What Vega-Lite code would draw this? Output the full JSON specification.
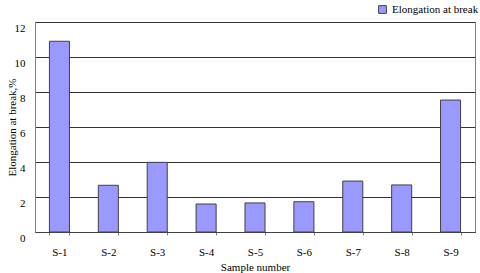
{
  "$schema": "https://vega.github.io/schema/vega-lite/v6.json",
  "width": 440,
  "height": 210,
  "autosize": {"type": "none"},
  "padding": {"left": 35, "top": 22, "right": 5, "bottom": 41},
  "background": "white",
  "config": {
    "font": "'Liberation Serif', 'DejaVu Serif', serif",
    "view": {"stroke": "#808080", "strokeWidth": 1}
  },
  "data": {
    "values": [
      {"sample": "S-1", "value": 10.9},
      {"sample": "S-2", "value": 2.67},
      {"sample": "S-3", "value": 3.98},
      {"sample": "S-4", "value": 1.6},
      {"sample": "S-5", "value": 1.66},
      {"sample": "S-6", "value": 1.73},
      {"sample": "S-7", "value": 2.91},
      {"sample": "S-8", "value": 2.69},
      {"sample": "S-9", "value": 7.54}
    ]
  },
  "mark": {"type": "bar", "stroke": "#404040", "strokeWidth": 1},
  "encoding": {
    "x": {
      "field": "sample",
      "type": "nominal",
      "sort": null,
      "scale": {"paddingInner": 0.59, "paddingOuter": 0.295},
      "axis": {
        "title": "Sample number",
        "titleFont": "'Liberation Serif', 'DejaVu Serif', serif",
        "titleFontSize": 11,
        "titleFontWeight": "normal",
        "titleColor": "#000000",
        "titleY": 35,
        "titleBaseline": "middle",
        "labelFont": "'Liberation Serif', 'DejaVu Serif', serif",
        "labelAngle": 0,
        "labelFontSize": 11,
        "labelColor": "#000000",
        "labelPadding": 11,
        "tickBand": "extent",
        "tickSize": 3,
        "ticks": true,
        "tickColor": "#808080",
        "domainColor": "#404040",
        "grid": false
      }
    },
    "y": {
      "field": "value",
      "type": "quantitative",
      "scale": {"domain": [0, 12], "nice": false},
      "axis": {
        "title": "Elongation at break,%",
        "titleFont": "'Liberation Serif', 'DejaVu Serif', serif",
        "titleFontSize": 11,
        "titleFontWeight": "normal",
        "titleColor": "#000000",
        "titleX": -23,
        "titleY": 105,
        "titleBaseline": "middle",
        "titleAlign": "center",
        "titleAngle": -90,
        "values": [0, 2, 4, 6, 8, 10, 12],
        "labelFont": "'Liberation Serif', 'DejaVu Serif', serif",
        "labelFontSize": 11,
        "labelColor": "#000000",
        "labelPadding": 10,
        "labelOffset": 6,
        "ticks": false,
        "domainColor": "#808080",
        "grid": true,
        "gridColor": "#333333",
        "gridWidth": 1,
        "gridOpacity": 1
      }
    },
    "color": {
      "datum": "Elongation at break",
      "type": "nominal",
      "scale": {"range": ["#9999ff"]},
      "legend": {
        "title": null,
        "orient": "none",
        "legendX": 342,
        "legendY": -18,
        "symbolType": "square",
        "symbolSize": 60,
        "symbolStrokeColor": "#404040",
        "symbolStrokeWidth": 1,
        "labelFontSize": 11,
        "labelColor": "#000000",
        "labelFont": "'Liberation Serif', 'DejaVu Serif', serif"
      }
    }
  }
}
